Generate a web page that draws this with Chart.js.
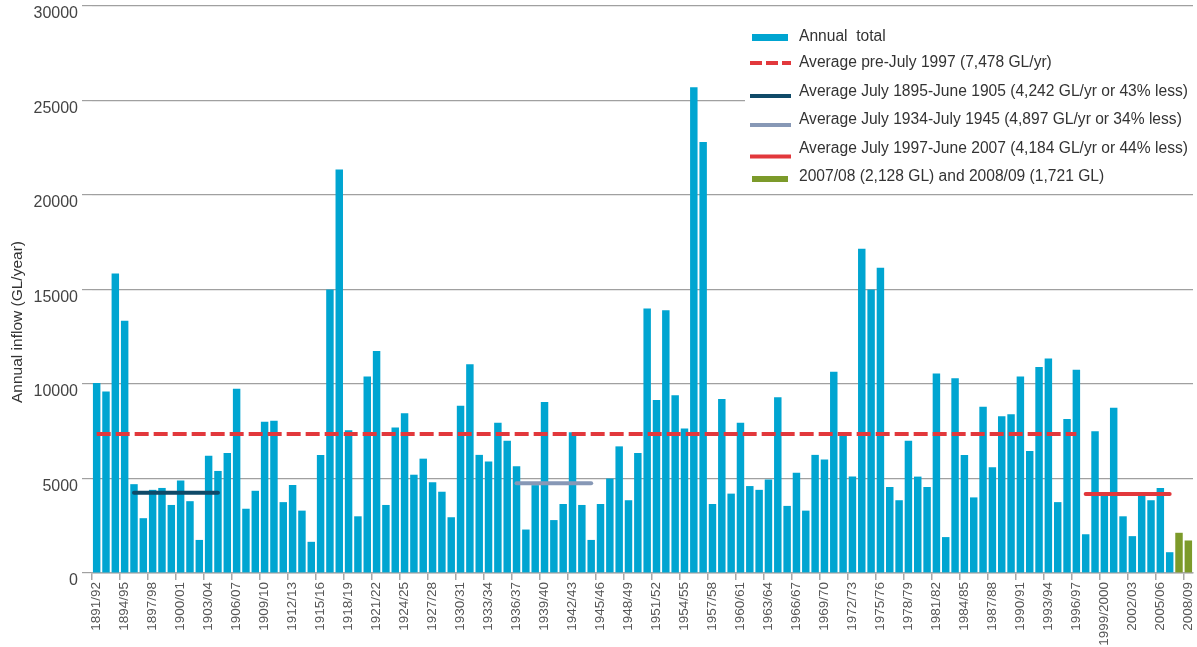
<!DOCTYPE html>
<html>
<head>
<meta charset="utf-8">
<script src="https://cdn.jsdelivr.net/npm/chart.js@4/dist/chart.umd.min.js"></script>
<style>
  body { margin: 0; background: #fff; }
  #chart { display: block; }
</style>
</head>
<body>
<canvas id="chart" width="1197" height="647"></canvas>
<script>
// years (July-June)
const years = [
  '1891/92','1892/93','1893/94','1894/95','1895/96','1896/97','1897/98','1898/99','1899/1900','1900/01',
  '1901/02','1902/03','1903/04','1904/05','1905/06','1906/07','1907/08','1908/09','1909/10','1910/11',
  '1911/12','1912/13','1913/14','1914/15','1915/16','1916/17','1917/18','1918/19','1919/20','1920/21',
  '1921/22','1922/23','1923/24','1924/25','1925/26','1926/27','1927/28','1928/29','1929/30','1930/31',
  '1931/32','1932/33','1933/34','1934/35','1935/36','1936/37','1937/38','1938/39','1939/40','1940/41',
  '1941/42','1942/43','1943/44','1944/45','1945/46','1946/47','1947/48','1948/49','1949/50','1950/51',
  '1951/52','1952/53','1953/54','1954/55','1955/56','1956/57','1957/58','1958/59','1959/60','1960/61',
  '1961/62','1962/63','1963/64','1964/65','1965/66','1966/67','1967/68','1968/69','1969/70','1970/71',
  '1971/72','1972/73','1973/74','1974/75','1975/76','1976/77','1977/78','1978/79','1979/80','1980/81',
  '1981/82','1982/83','1983/84','1984/85','1985/86','1986/87','1987/88','1988/89','1989/90','1990/91',
  '1991/92','1992/93','1993/94','1994/95','1995/96','1996/97','1997/98','1998/99','1999/2000','2000/01',
  '2001/02','2002/03','2003/04','2004/05','2005/06','2006/07','2007/08','2008/09'
];

// annual inflow GL
const inflow = [
  10050, 9600, 15850, 13350, 4700, 2900, 4400, 4500, 3600, 4900,
  3800, 1750, 6200, 5400, 6350, 9750, 3400, 4350, 8000, 8050,
  3750, 4650, 3300, 1650, 6250, 15000, 21350, 7550, 3000, 10400,
  11750, 3600, 7700, 8450, 5200, 6050, 4800, 4300, 2950, 8850,
  11050, 6250, 5900, 7950, 7000, 5650, 2300, 4650, 9050, 2800,
  3650, 7450, 3600, 1750, 3650, 5000, 6700, 3850, 6350, 14000,
  9150, 13900, 9400, 7650, 25700, 22800, 3650, 9200, 4200, 7950,
  4600, 4400, 4950, 9300, 3550, 5300, 3300, 6250, 6000, 10650,
  7450, 5100, 17150, 15000, 16150, 4550, 3850, 7000, 5100, 4550,
  10550, 1900, 10300, 6250, 4000, 8800, 5600, 8300, 8400, 10400,
  6450, 10900, 11350, 3750, 8150, 10750, 2050, 7500, 4200, 8750,
  3000, 1950, 4150, 3850, 4500, 1100, 2128, 1721
];

const recentYears = ['2007/08', '2008/09'];

// average levels as drawn
const avgPre = 7350;
const avg1895 = 4242;
const avg1934 = 4750;
const avg1997 = 4184;

const legendLabels = [
  'Annual  total',
  'Average pre-July 1997 (7,478 GL/yr)',
  'Average July 1895-June 1905 (4,242 GL/yr or 43% less)',
  'Average July 1934-July 1945 (4,897 GL/yr or 34% less)',
  'Average July 1997-June 2007 (4,184 GL/yr or 44% less)',
  '2007/08 (2,128 GL) and 2008/09 (1,721 GL)'
];

const yTicks = [0, 5000, 10000, 15000, 20000, 25000, 30000];

const BLUE = '#00a5d1';
const GREEN = '#7c9a2a';
const RED = '#e2383c';
const NAVY = '#0f4a68';
const SLATE = '#8798b6';
const FONT = "'Liberation Sans', Arial, sans-serif";

function span(from, to, level) {
  const a = years.indexOf(from), b = years.indexOf(to);
  return years.map((y, i) => (i >= a && i <= b ? level : null));
}

const lineBase = {
  type: 'line',
  pointRadius: 0,
  borderWidth: 4,
  borderCapStyle: 'round',
  fill: false,
  spanGaps: false,
  order: 1
};

const legendPlugin = {
  id: 'legendBox',
  afterDraw(chart) {
    const ctx = chart.ctx;
    ctx.save();
    ctx.fillStyle = '#fff';
    ctx.fillRect(745, 16, 452, 172);
    const rows = [37, 63, 92, 120, 148.5, 177];
    const lineY = [37, 63, 96, 125, 156.5, 179];
    ctx.font = '15.6px ' + FONT;
    ctx.fillStyle = '#333';
    ctx.textBaseline = 'middle';
    legendLabels.forEach((t, i) => ctx.fillText(t, 799, rows[i]));

    ctx.fillStyle = BLUE;
    ctx.fillRect(752, 34, 36, 7);
    ctx.fillStyle = GREEN;
    ctx.fillRect(752, 176, 36, 6);

    ctx.lineWidth = 4;
    ctx.lineCap = 'butt';
    const seg = (c, y, dash) => {
      ctx.strokeStyle = c;
      ctx.setLineDash(dash || []);
      ctx.beginPath();
      ctx.moveTo(750, y);
      ctx.lineTo(791, y);
      ctx.stroke();
    };
    seg(RED, lineY[1], [12, 4]);
    seg(NAVY, lineY[2]);
    seg(SLATE, lineY[3]);
    seg(RED, lineY[4]);

    // y axis title
    ctx.setLineDash([]);
    ctx.translate(18, 322);
    ctx.rotate(-Math.PI / 2);
    ctx.font = '15.5px ' + FONT;
    ctx.fillStyle = '#333';
    ctx.textAlign = 'center';
    ctx.fillText('Annual inflow (GL/year)', 0, 0);
    ctx.restore();
  }
};

new Chart('chart', {
  data: {
    labels: years,
    datasets: [
      Object.assign({}, lineBase, {
        label: legendLabels[1],
        data: span('1891/92', '1996/97', avgPre),
        borderColor: RED,
        borderDash: [14, 5],
        borderCapStyle: 'butt'
      }),
      Object.assign({}, lineBase, {
        label: legendLabels[2],
        data: span('1895/96', '1904/05', avg1895),
        borderColor: NAVY
      }),
      Object.assign({}, lineBase, {
        label: legendLabels[3],
        data: span('1936/37', '1944/45', avg1934),
        borderColor: SLATE
      }),
      Object.assign({}, lineBase, {
        label: legendLabels[4],
        data: span('1997/98', '2006/07', avg1997),
        borderColor: RED
      }),
      {
        type: 'bar',
        label: legendLabels[0],
        data: inflow,
        backgroundColor: years.map(y => recentYears.includes(y) ? GREEN : BLUE),
        barPercentage: 0.8,
        categoryPercentage: 1,
        order: 2
      }
    ]
  },
  options: {
    responsive: false,
    animation: false,
    layout: { padding: { top: 6, right: 4, left: 0, bottom: 0 } },
    plugins: {
      legend: { display: false },
      tooltip: { enabled: false }
    },
    scales: {
      x: {
        offset: true,
        afterFit(scale) {
          scale.height = 74;
          scale.paddingLeft = 0;
          scale.paddingRight = 0;
        },
        border: { display: true, color: '#a8a8a8', width: 1.5 },
        grid: {
          offset: true,
          drawOnChartArea: false,
          drawTicks: true,
          tickLength: 7,
          lineWidth: 1.5,
          color: ctx => (ctx.index % 3 === 0 ? '#a8a8a8' : 'rgba(0,0,0,0)')
        },
        ticks: {
          autoSkip: false,
          minRotation: 90,
          maxRotation: 90,
          padding: 2,
          color: '#555',
          font: { family: FONT, size: 13.5 },
          callback(v, i) { return i % 3 === 0 ? years[i] : ''; }
        }
      },
      y: {
        min: 0,
        max: 30000,
        afterFit(scale) {
          scale.width = 92;
          scale.paddingTop = 0;
          scale.paddingBottom = 0;
        },
        afterBuildTicks(scale) { scale.ticks = yTicks.map(v => ({ value: v })); },
        border: { display: false },
        grid: {
          color: '#a0a0a0',
          lineWidth: 1.2,
          tickLength: 10
        },
        ticks: {
          padding: 4,
          labelOffset: 8,
          color: '#444',
          font: { family: FONT, size: 16 },
          callback: v => String(v)
        }
      }
    }
  },
  plugins: [legendPlugin]
});
</script>
</body>
</html>
